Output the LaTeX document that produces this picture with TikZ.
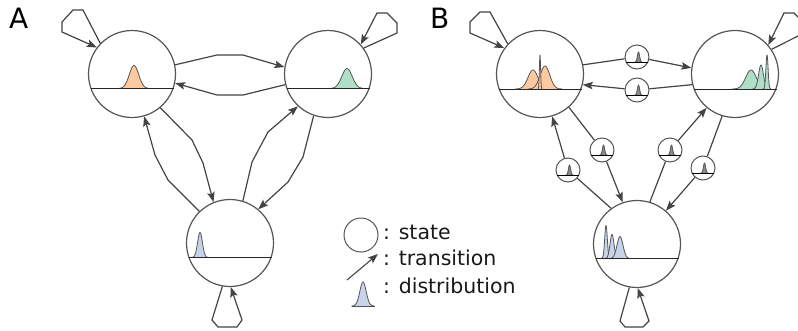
\documentclass[tikz,border=0pt]{standalone}
\usepackage{fontspec}
\setmainfont{DejaVu Sans}
\usetikzlibrary{arrows.meta}
\definecolor{stroke}{HTML}{555555}
\definecolor{arrowc}{HTML}{444444}
\definecolor{orangef}{HTML}{FDC9A0}
\definecolor{greenf}{HTML}{B0DFC9}
\definecolor{bluef}{HTML}{C7D3E8}
\definecolor{spikef}{HTML}{8A8A8A}
\newcommand\mygauss[5]{%
  \pgfmathsetmacro\gmu{#1}\pgfmathsetmacro\gsd{#2}\pgfmathsetmacro\gbase{#4}%
  \pgfmathsetmacro\glo{\gmu-3.6*\gsd}\pgfmathsetmacro\ghi{\gmu+3.6*\gsd}%
  \fill[#5] plot[domain=\glo:\ghi,samples=50,smooth] (\x,{\gbase-(#3)*exp(-((\x-\gmu)^2)/(2*\gsd*\gsd))}) -- cycle;
  \draw[curve] plot[domain=\glo:\ghi,samples=50,smooth] (\x,{\gbase-(#3)*exp(-((\x-\gmu)^2)/(2*\gsd*\gsd))});
}
\newcommand\mychord[2]{\draw[chord] ({#1-41.5},{#2+14.5}) -- ({#1+41.5},{#2+14.5});}
\newcommand\smallstate[3]{%
  \node[tstate] (#1) at (#2,#3) {};
  \mygauss{#2+1.5}{1.1}{10}{#3+5}{spikef}
  \draw[stroke,line width=0.8pt] ({#2-10.9},{#3+5}) -- ({#2+10.9},{#3+5});
}
\begin{document}
\begin{tikzpicture}[x=1pt,y=-1pt,
  state/.style={circle,draw=stroke,line width=1.2pt,minimum size=87pt,inner sep=0pt},
  tstate/.style={circle,draw=stroke,line width=1pt,minimum size=24pt,inner sep=0pt},
  arr/.style={draw=arrowc,line width=1.2pt,-{Stealth[length=10pt,width=7.5pt,inset=2pt]}},
  seg/.style={draw=arrowc,line width=1.2pt},
  chord/.style={draw=black!85,line width=1pt},
  curve/.style={draw=stroke,line width=0.8pt},
  lbl/.style={font=\fontsize{28}{30}\selectfont,text=black,inner sep=0pt},
  leg/.style={font=\fontsize{20.5}{22}\selectfont,text=black!90,inner sep=0pt,anchor=base west},
]
\useasboundingbox (0,0) rectangle (798,330);

% ---------- Panel A ----------
\node[lbl,anchor=north west] (labA) at (9,8) {A};
\node[state] (A1) at (132,74) {};
\node[state] (A2) at (328,74) {};
\node[state] (A3) at (230,243) {};
\mygauss{134}{4.7}{23}{88.5}{orangef}
\mygauss{347}{5.2}{20}{88.5}{greenf}
\mygauss{200}{2.4}{25}{257.5}{bluef}
\mychord{132}{74}\mychord{328}{74}\mychord{230}{243}

\draw[arr] (A1.12) -- (217,55) -- (243,55) -- (A2.171);
\draw[arr] (A2.194) -- (243,95) -- (217,95) -- (A1.348);
\draw[arr] (A1.310) -- (192,140) -- (203,163) -- (A3.112);
\draw[arr] (A3.134) -- (168,180) -- (155,155) -- (A1.286);
\draw[arr] (A3.73) -- (252,162) -- (268,132) -- (A2.227);
\draw[arr] (A2.251) -- (303,157) -- (288,182) -- (A3.50);
% self loops
\draw[arr] (A1.136) -- (83,10) -- (73,10) -- (62,22) -- (62,32) -- (A1.143);
\draw[arr] (A2.36) -- (397,33) -- (397,23) -- (387,13) -- (377,13) -- (A2.42);
\draw[arr] (A3.260) -- (212,320) -- (218,327) -- (237,327) -- (242,320) -- (A3.271);

% ---------- Legend ----------
\node[circle,draw=stroke,line width=1pt,minimum size=34pt,inner sep=0pt] (L1) at (361,235) {};
\node[leg] (L1t) at (383,239) {: state};
\coordinate (L2s) at (347,280);
\coordinate (L2e) at (378,254);
\draw[arr,line width=1.1pt] (L2s) -- (L2e);
\node[leg] (L2t) at (383,265) {: transition};
\mygauss{363}{3.2}{24}{306}{bluef}
\draw[curve] (351.5,306) -- (374.5,306);
\node[leg] (L3t) at (383,293) {: distribution};

% ---------- Panel B ----------
\node[lbl,anchor=north west] (labB) at (430,8) {B};
\node[state] (B1) at (540,74) {};
\node[state] (B2) at (735,74) {};
\node[state] (B3) at (637,244) {};
\mygauss{533}{5}{19}{89}{orangef}
\mygauss{545}{4.8}{23}{89}{orangef}
\mygauss{540}{0.6}{34}{89}{orangef}
\mygauss{751}{5.3}{19}{89}{greenf}
\mygauss{761}{2.4}{24}{89}{greenf}
\mygauss{767}{1.1}{34}{89}{greenf}
\mygauss{606}{1.3}{33}{258.5}{bluef}
\mygauss{612}{2.0}{24}{258.5}{bluef}
\mygauss{620}{3.0}{22}{258.5}{bluef}
\mychord{540}{74.5}\mychord{735}{74.5}\mychord{637}{244}

\smallstate{T12}{637}{57}
\smallstate{T21}{637}{90}
\smallstate{T13}{602}{150}
\smallstate{T31}{568}{170}
\smallstate{T32}{670}{150}
\smallstate{T23}{703}{168}

\draw[seg] (B1.12) -- (T12); \draw[arr] (T12) -- (B2.172);
\draw[seg] (B2.194) -- (T21); \draw[arr] (T21) -- (B1.346);
\draw[seg] (B1.311) -- (T13); \draw[arr] (T13) -- (B3.109);
\draw[seg] (B3.126) -- (T31); \draw[arr] (T31) -- (B1.286);
\draw[seg] (B3.73) -- (T32); \draw[arr] (T32) -- (B2.230);
\draw[seg] (B2.253) -- (T23); \draw[arr] (T23) -- (B3.49);
% self loops
\draw[arr] (B1.137) -- (490,12) -- (480,12) -- (470,22) -- (470,33) -- (B1.144);
\draw[arr] (B2.34) -- (804,33) -- (804,23) -- (794,13) -- (784,13) -- (B2.41);
\draw[arr] (B3.260) -- (620,321) -- (625,327) -- (643,327) -- (649,321) -- (B3.271);
\end{tikzpicture}
\end{document}
